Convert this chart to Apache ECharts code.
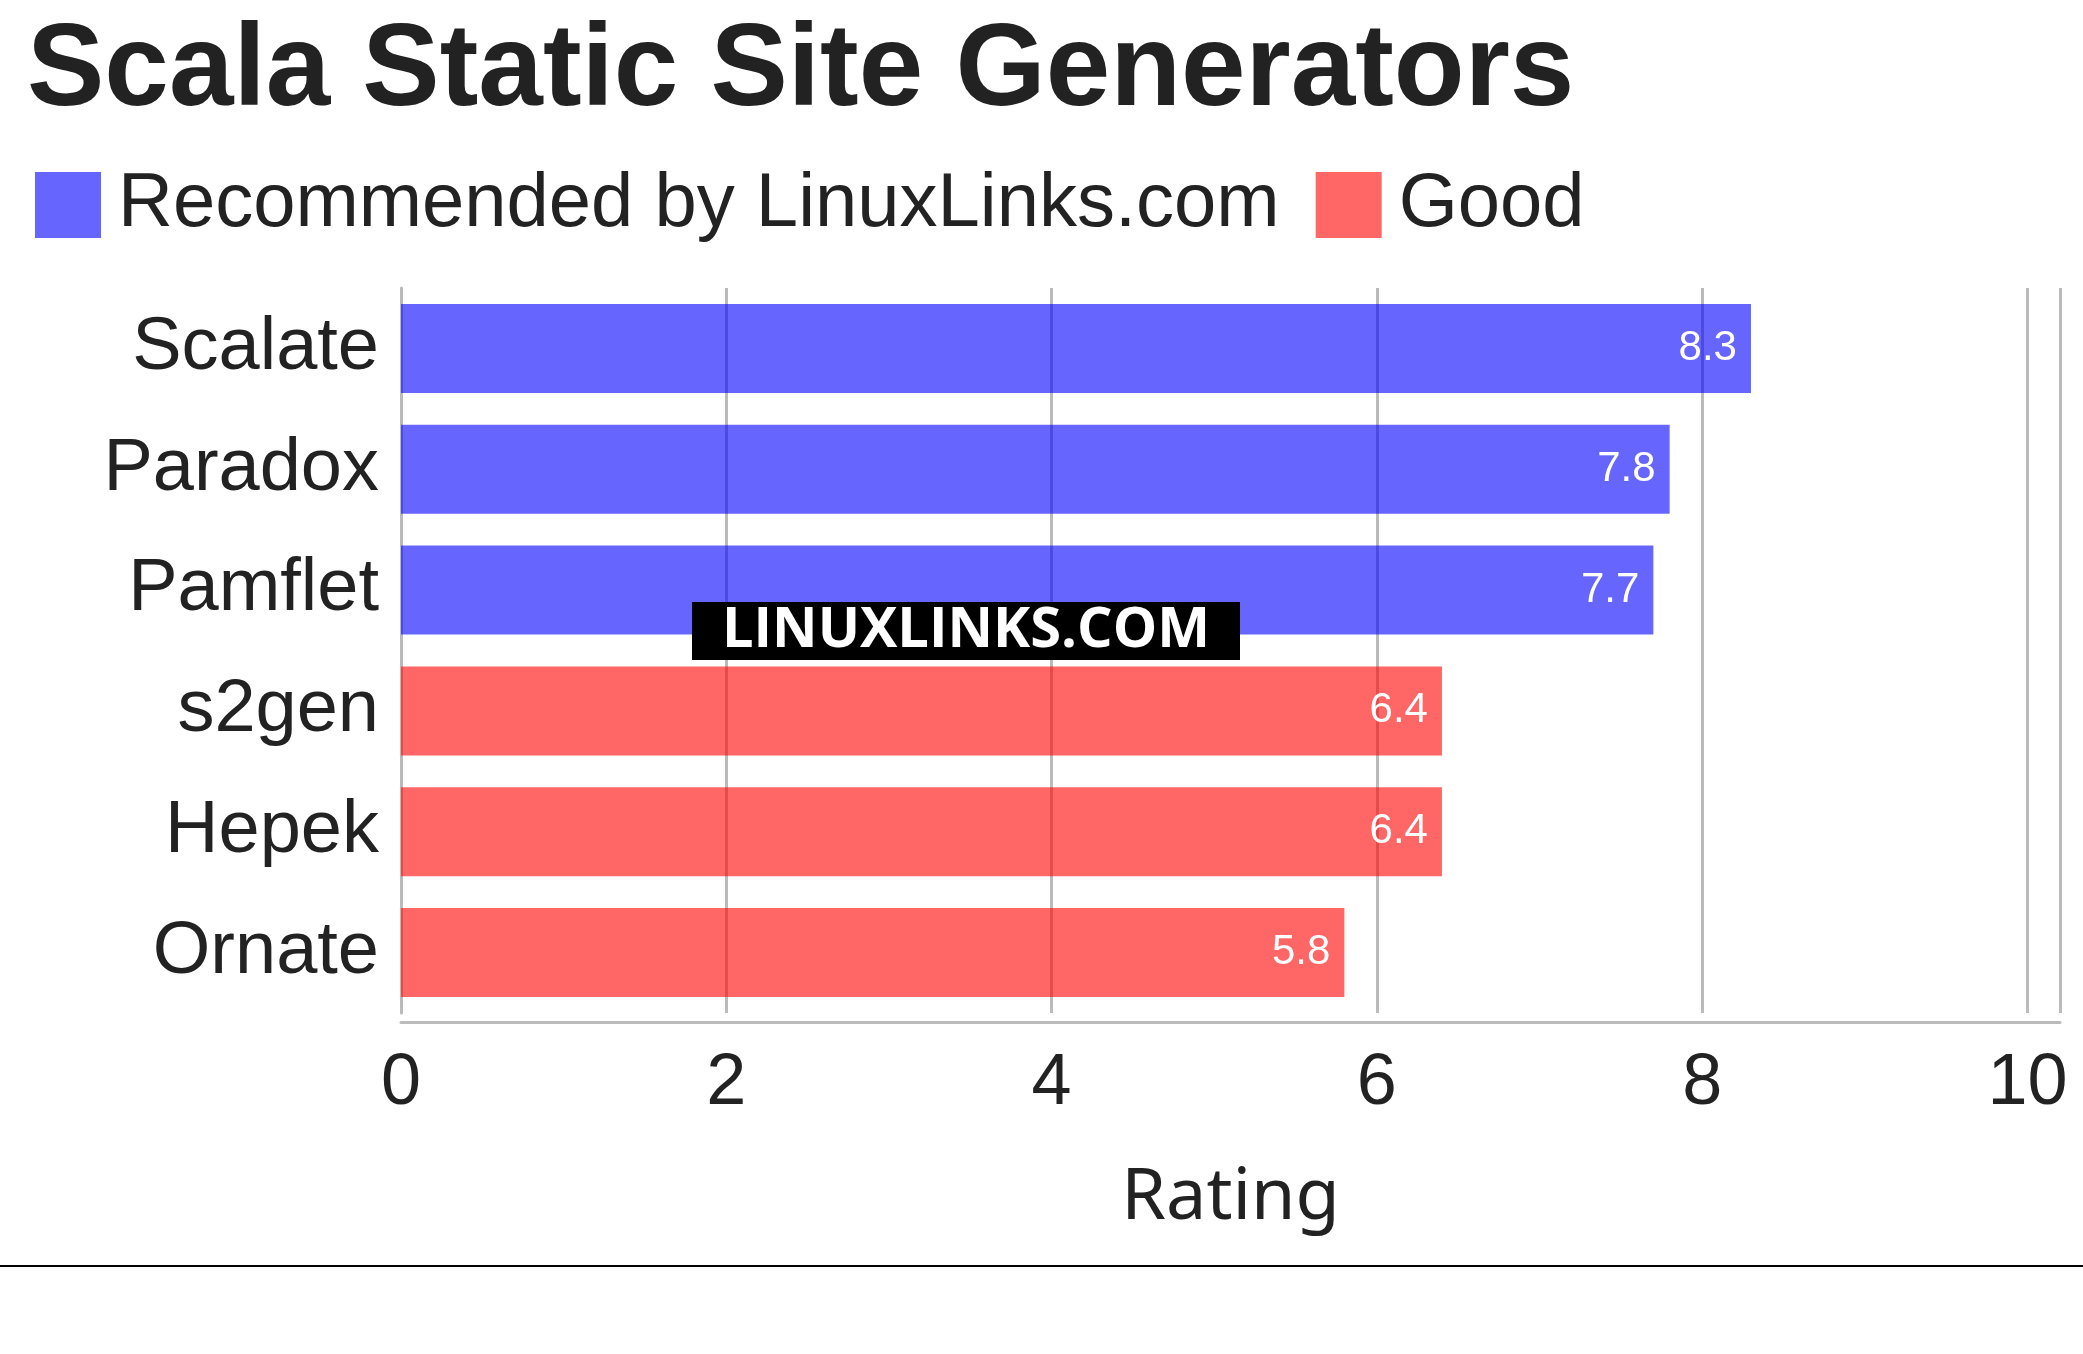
<!DOCTYPE html>
<html><head><meta charset="utf-8">
<script src="https://cdn.jsdelivr.net/npm/echarts@6/dist/echarts.min.js"></script>
<style>html,body{margin:0;background:#fff}#c{width:2083px;height:1354px}</style>
</head><body><div id="c"></div>
<script>
const categories=['Scalate','Paradox','Pamflet','s2gen','Hepek','Ornate'];
const recommended=[8.3,7.8,7.7,null,null,null];
const good=[null,null,null,6.4,6.4,5.8];
const ticks=[0,2,4,6,8,10];
const c=echarts.init(document.getElementById('c'));
const F='Liberation Sans';
const lbl={show:true,position:'insideRight',color:'#fff',fontSize:42,fontFamily:F,distance:14};
c.setOption({
 animation:false,
 title:{text:'Scala Static Site Generators',left:22,top:10,textStyle:{fontSize:116,fontWeight:'bold',color:'#222',fontFamily:F}},
 legend:{left:30,top:162,itemWidth:66,itemHeight:66,itemGap:36,icon:'rect',textStyle:{fontSize:76,color:'#222',fontFamily:F,padding:[0,0,0,12]},data:['Recommended by LinuxLinks.com','Good']},
 grid:{left:401,right:2083-2060,top:288,bottom:1354-1013},
 xAxis:{type:'value',min:0,max:10.2,interval:2,offset:9,
  axisLabel:{fontSize:72,color:'#222',fontFamily:F,margin:26,formatter:v=>ticks.includes(v)?v:''},
  axisLine:{show:true,lineStyle:{color:'#bbb',width:3}},axisTick:{show:false},
  splitLine:{lineStyle:{color:'#bbb',width:3}},
  name:'Rating',nameLocation:'middle',nameGap:140,nameTextStyle:{fontSize:72,color:'#222',fontFamily:'Noto Sans'}},
 yAxis:{type:'category',data:categories,inverse:true,
  axisLabel:{fontSize:74,color:'#222',fontFamily:F,margin:22},
  axisLine:{lineStyle:{color:'#bbb',width:3}},axisTick:{show:false}},
 series:[
  {name:'Recommended by LinuxLinks.com',type:'bar',stack:'a',data:recommended,barWidth:89,itemStyle:{color:'rgba(0,0,255,0.6)'},label:lbl},
  {name:'Good',type:'bar',stack:'a',data:good,barWidth:89,itemStyle:{color:'rgba(255,0,0,0.6)'},label:lbl}
 ],
 graphic:[
  {type:'line',shape:{x1:0,y1:1266,x2:2083,y2:1266},style:{stroke:'#000',lineWidth:2}},
  {type:'rect',z:100,shape:{x:692,y:602,width:548,height:58},style:{fill:'#000'}},
  {type:'text',z:101,style:{x:966,y:631,text:'LINUXLINKS.COM',fill:'#fff',font:'bold 56px "Open Sans"',textAlign:'center',textVerticalAlign:'middle'}}
 ]
});
</script></body></html>
